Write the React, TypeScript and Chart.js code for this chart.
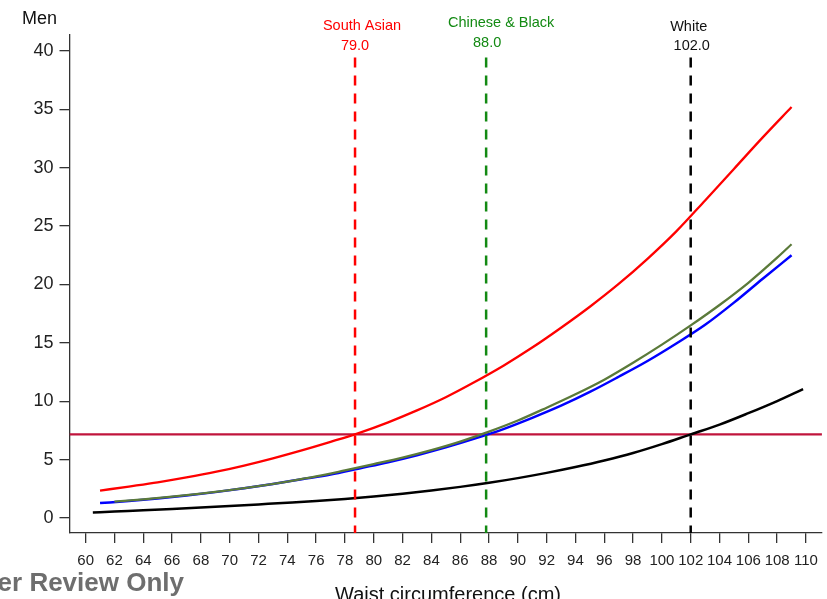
import { useEffect, useRef } from "react";
import { Chart, registerables } from "chart.js";

Chart.register(...registerables);

const FONT = "'Liberation Sans', Arial, Helvetica, sans-serif";

const xTicks = [60, 62, 64, 66, 68, 70, 72, 74, 76, 78, 80, 82, 84, 86, 88, 90, 92, 94, 96, 98, 100, 102, 104, 106, 108, 110];
const yTicks = [0, 5, 10, 15, 20, 25, 30, 35, 40];

const southAsianX = [61, 63, 65, 67, 69, 71, 73, 75, 77, 79, 81, 83, 85, 87, 89, 91, 93, 95, 97, 99, 101, 103, 105, 107, 109];
const southAsianY = [2.35, 2.7, 3.06, 3.48, 3.95, 4.5, 5.12, 5.8, 6.53, 7.3, 8.2, 9.22, 10.35, 11.65, 13.05, 14.6, 16.3, 18.1, 20.05, 22.2, 24.55, 27.2, 29.9, 32.6, 35.2];

const chineseX = [62, 64, 66, 68, 70, 72, 74, 76, 78, 80, 82, 84, 86, 88, 90, 92, 94, 96, 98, 100, 102, 104, 106, 108, 109];
const chineseY = [1.4, 1.6, 1.84, 2.1, 2.4, 2.73, 3.12, 3.56, 4.08, 4.62, 5.18, 5.82, 6.55, 7.4, 8.35, 9.45, 10.6, 11.85, 13.3, 14.85, 16.5, 18.25, 20.15, 22.3, 23.45];

const blackX = [61, 63, 65, 67, 69, 71, 73, 75, 77, 79, 81, 83, 85, 87, 89, 91, 93, 95, 97, 99, 101, 103, 105, 107, 109];
const blackY = [1.28, 1.46, 1.68, 1.93, 2.22, 2.55, 2.92, 3.32, 3.72, 4.25, 4.78, 5.38, 6.05, 6.8, 7.62, 8.58, 9.62, 10.8, 12.1, 13.45, 14.95, 16.55, 18.45, 20.5, 22.5];

const whiteX = [60.5, 62, 64, 66, 68, 70, 72, 74, 76, 78, 80, 82, 84, 86, 88, 90, 92, 94, 96, 98, 100, 102, 104, 106, 108, 109.8];
const whiteY = [0.48, 0.56, 0.66, 0.77, 0.9, 1.03, 1.17, 1.31, 1.46, 1.64, 1.84, 2.08, 2.36, 2.67, 3.02, 3.42, 3.87, 4.37, 4.93, 5.57, 6.33, 7.17, 8.0, 8.98, 10.02, 11.05];

const cutoffX = [78.7, 87.8, 102.0];
const cutoffNames = ["South Asian", "Chinese & Black", "White"];
const cutoffValues = ["79.0", "88.0", "102.0"];
const cutoffColors = ["#ff0000", "#138a13", "#000000"];
const threshold = 7.17;

const X_MIN = 58.88;
const X_MAX = 111.11;
const Y_MIN = -1.28;
const Y_MAX = 41.37;
const LINE_TOP = 39.44;

const pts = (xs: number[], ys: number[]) => xs.map((x, i) => ({ x, y: ys[i] }));

const textPlugin = {
  id: "texts",
  afterDraw(chart: any) {
    const ctx = chart.ctx;
    const xs = chart.scales.x;
    ctx.save();
    ctx.textBaseline = "middle";
    ctx.textAlign = "left";
    ctx.fillStyle = "#111";
    ctx.font = `18px ${FONT}`;
    ctx.fillText("Men", 22, 19);

    const nameOff = [7, 15, -2];
    const valOff = [0, 1, 1];
    const nameY = [26, 23, 27];
    const valY = [46, 43, 46];
    ctx.textAlign = "center";
    ctx.font = `14.5px ${FONT}`;
    cutoffX.forEach((v, i) => {
      const px = xs.getPixelForValue(v);
      ctx.fillStyle = cutoffColors[i] === "#000000" ? "#111" : cutoffColors[i];
      ctx.fillText(cutoffNames[i], px + nameOff[i], nameY[i]);
      ctx.fillText(cutoffValues[i], px + valOff[i], valY[i]);
    });

    ctx.textBaseline = "alphabetic";
    ctx.fillStyle = "#111";
    ctx.font = `20px ${FONT}`;
    ctx.fillText("Waist circumference (cm)", 448, 601);

    ctx.textAlign = "right";
    ctx.textBaseline = "middle";
    ctx.fillStyle = "#6e6e6e";
    ctx.font = `bold 26px ${FONT}`;
    ctx.fillText("Peer Review Only", 184, 584);
    ctx.restore();
  },
};

export default function App() {
  const ref = useRef<HTMLCanvasElement | null>(null);

  useEffect(() => {
    if (!ref.current) return;
    const curve = (data: any, color: string, width: number) => ({
      data,
      borderColor: color,
      backgroundColor: color,
      borderWidth: width,
      pointRadius: 0,
      fill: false,
      cubicInterpolationMode: "monotone" as const,
    });
    const vline = (i: number) => ({
      data: [
        { x: cutoffX[i], y: LINE_TOP },
        { x: cutoffX[i], y: Y_MIN },
      ],
      borderColor: cutoffColors[i],
      borderWidth: 2.5,
      borderDash: [10, 8],
      pointRadius: 0,
      fill: false,
    });
    const chart = new Chart(ref.current, {
      type: "line",
      data: {
        datasets: [
          vline(0),
          vline(1),
          vline(2),
          curve(pts(southAsianX, southAsianY), "#ff0000", 2.3),
          curve(pts(chineseX, chineseY), "#5b7a3a", 2.3),
          curve(pts(blackX, blackY), "#0000ff", 2.5),
          curve(pts(whiteX, whiteY), "#000000", 2.5),
          {
            data: [
              { x: X_MIN, y: threshold },
              { x: X_MAX, y: threshold },
            ],
            borderColor: "#c0143c",
            borderWidth: 2.2,
            pointRadius: 0,
            fill: false,
          },
        ],
      },
      options: {
        animation: false,
        responsive: false,
        devicePixelRatio: 1,
        layout: { padding: { top: 35, right: 4, left: 0, bottom: 0 } },
        plugins: {
          legend: { display: false },
          tooltip: { enabled: false },
          title: { display: false },
        },
        scales: {
          x: {
            type: "linear",
            min: X_MIN,
            max: X_MAX,
            afterBuildTicks: (s: any) => {
              s.ticks = xTicks.map((v) => ({ value: v }));
            },
            afterFit: (s: any) => {
              s.height = 66;
            },
            grid: { drawOnChartArea: false, tickLength: 10, color: "#333", lineWidth: 1.3 },
            border: { color: "#333", width: 1.3 },
            ticks: {
              autoSkip: false,
              maxRotation: 0,
              padding: 9,
              color: "#222",
              font: { family: FONT, size: 15 },
            },
          },
          y: {
            type: "linear",
            min: Y_MIN,
            max: Y_MAX,
            afterBuildTicks: (s: any) => {
              s.ticks = yTicks.map((v) => ({ value: v }));
            },
            afterFit: (s: any) => {
              s.width = 69.5;
            },
            grid: { drawOnChartArea: false, tickLength: 10, color: "#333", lineWidth: 1.3 },
            border: { color: "#333", width: 1.3 },
            ticks: {
              padding: 6,
              color: "#222",
              font: { family: FONT, size: 18 },
            },
          },
        },
      },
      plugins: [textPlugin],
    });
    return () => chart.destroy();
  }, []);

  return (
    <div style={{ position: "absolute", left: 0, top: 0, width: 827, height: 599, background: "#fff" }}>
      <canvas ref={ref} width={827} height={599} style={{ display: "block" }} />
    </div>
  );
}
